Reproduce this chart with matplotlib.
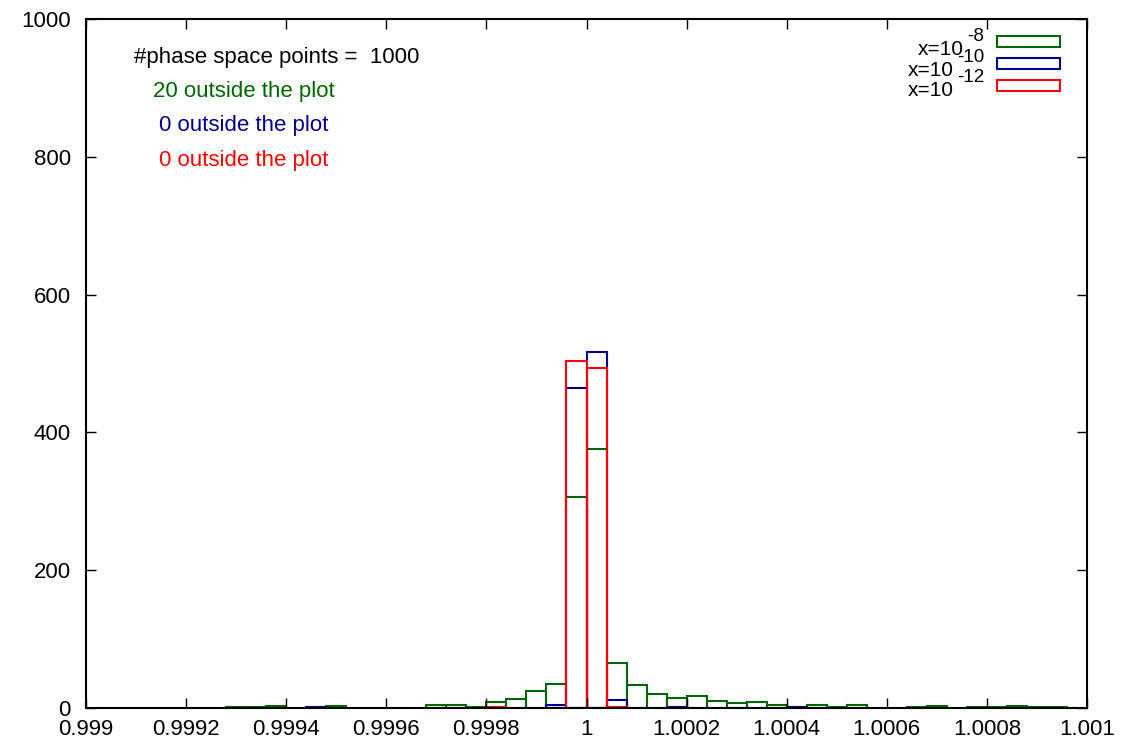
import numpy as np
import matplotlib.pyplot as plt
from matplotlib.patches import Rectangle

plt.rcParams['font.family'] = ['Liberation Sans', 'DejaVu Sans']

bin_width = 0.00004

# left edge of each non-empty bin and its count
green_edges = [0.99928, 0.99932, 0.99936, 0.99948, 0.99968, 0.99972, 0.99976,
               0.9998, 0.99984, 0.99988, 0.99992, 0.99996, 1.0, 1.00004,
               1.00008, 1.00012, 1.00016, 1.0002, 1.00024, 1.00028, 1.00032,
               1.00036, 1.0004, 1.00044, 1.00048, 1.00052, 1.00064, 1.00068,
               1.00076, 1.0008, 1.00084, 1.00088, 1.00092]
green_counts = [1, 1, 3, 3, 4, 4, 2,
                9, 13, 24, 35, 306, 376, 66,
                33, 21, 14, 18, 10, 7, 8,
                5, 1, 5, 1, 5, 1, 3,
                2, 1, 3, 2, 1]

blue_edges = [0.99944, 0.99992, 0.99996, 1.0, 1.00004, 1.00016, 1.0004]
blue_counts = [1, 4, 465, 516, 12, 1, 1]

red_edges = [0.9998, 0.99996, 1.0, 1.00004]
red_counts = [1, 504, 494, 1]

exponents = ['-8', '-10', '-12']
colors = ['#006400', '#00008b', '#ff0000']
outside = [20, 0, 0]
n_points = 1000

x_ticks = [0.999, 0.9992, 0.9994, 0.9996, 0.9998, 1.0, 1.0002, 1.0004, 1.0006, 1.0008, 1.001]
x_ticklabels = ['0.999', '0.9992', '0.9994', '0.9996', '0.9998', '1', '1.0002',
                '1.0004', '1.0006', '1.0008', '1.001']
y_ticks = [0, 200, 400, 600, 800, 1000]

W, H = 1144, 748
fig = plt.figure(figsize=(W / 100, H / 100), dpi=100)
ax = fig.add_axes([86 / W, 40 / H, 1001 / W, 689 / H])

series = [(green_edges, green_counts), (blue_edges, blue_counts), (red_edges, red_counts)]
for (edges, counts), c in zip(series, colors):
    ax.bar(edges, counts, width=bin_width, align='edge', fill=False,
           edgecolor=c, linewidth=1.5)

ax.set_xlim(0.999, 1.001)
ax.set_ylim(0, 1000)
ax.set_xticks(x_ticks)
ax.set_xticklabels(x_ticklabels)
ax.set_yticks(y_ticks)
ax.tick_params(direction='in', length=7, width=1, top=True, right=True,
               labelsize=16)
ax.tick_params(axis='y', pad=11)
ax.tick_params(axis='x', pad=8)
for s in ax.spines.values():
    s.set_linewidth(1.5)
    s.set_zorder(5)

# annotations
ax.text(0.99938, 944, f'#phase space points =  {n_points}', fontsize=16,
        ha='center', va='center')
for i, (n, c) in enumerate(zip(outside, colors)):
    ax.text(0.999316, 895 - 50 * i, f'{n} outside the plot', fontsize=16,
            color=c, ha='center', va='center')

# gnuplot-style key, placed in pixel coordinates (y measured from the top)
def px(x, y):
    return x / W, 1 - y / H

renderer = fig.canvas.get_renderer()
for i, (e, c) in enumerate(zip(exponents, colors)):
    base = 55 + 20.5 * i
    sup = fig.text(*px(984, base - 14), e, fontsize=13.5, ha='right', va='baseline')
    sw = sup.get_window_extent(renderer).width
    fig.text(*px(984 - sw - 3, base), 'x=10', fontsize=15, ha='right', va='baseline')
    bx, by = px(997, 41 + 22 * i + 5.5)
    fig.patches.append(Rectangle((bx, by), 63 / W, 11 / H, transform=fig.transFigure,
                                 facecolor='white', edgecolor=c, linewidth=1.5))

fig.savefig('out.png', dpi=100)
